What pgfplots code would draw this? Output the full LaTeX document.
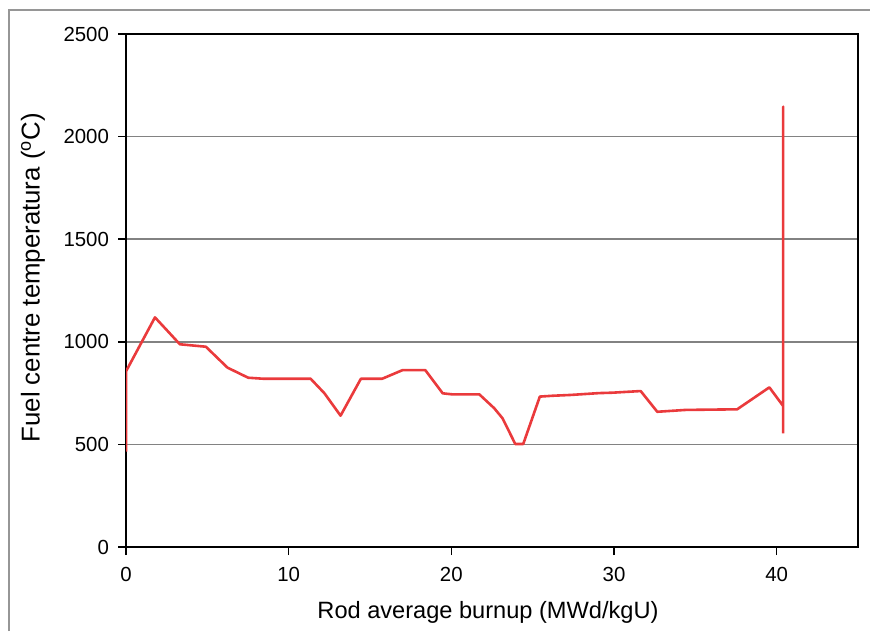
\documentclass[border=0pt]{standalone}
\usepackage{pgfplots}
\pgfplotsset{compat=1.18}
\usepackage{fontspec}
\setmainfont{Liberation Sans}

\definecolor{tempred}{RGB}{234,58,60}
\definecolor{gridgray}{RGB}{130,130,130}
\definecolor{framegray}{RGB}{150,150,150}

\begin{document}
\begin{tikzpicture}
\useasboundingbox (0,0) rectangle (435pt,315.5pt);
% thin frame around the figure
\draw[framegray, line width=0.8pt] (4.5pt,0pt) -- (4.5pt,310.5pt) -- (435pt,310.5pt);
\begin{axis}[
  at={(63pt,42pt)}, anchor=south west,
  scale only axis,
  width=366pt, height=256.5pt,
  xmin=0, xmax=45, ymin=0, ymax=2500,
  xtick={0,10,20,30,40},
  ytick={0,500,1000,1500,2000,2500},
  ymajorgrids,
  major grid style={gridgray, line width=0.75pt},
  axis line style={black, line width=0.85pt},
  tick style={black, line width=0.75pt},
  tick align=outside,
  major tick length=4pt,
  xtick pos=bottom, ytick pos=left,
  /pgf/number format/assume math mode=true,
  /pgf/number format/1000 sep={},
  tick label style={font=\fontsize{10.2}{12}\selectfont},
  xticklabel style={yshift=-2.5pt},
  yticklabel style={xshift=-1pt},
  xlabel={Rod average burnup (MWd/kgU)},
  ylabel={Fuel centre temperatura (\textsuperscript{o}C)},
  xlabel style={font=\fontsize{11.8}{14}\selectfont,
    at={(axis description cs:0.4945,-0.127)}, anchor=center},
  ylabel style={font=\fontsize{12.9}{15}\selectfont,
    at={(axis description cs:-0.127,0.525)}, anchor=center},
]
\addplot[tempred, line width=1.3pt, line join=round] coordinates {
  (0,465) (0,856) (1.78,1119) (2.6,1049) (3.31,988) (4.91,976)
  (6.24,874) (7.51,825) (8.43,820) (11.35,820) (12.2,749) (13.19,640)
  (14.44,820) (15.75,820) (17.0,862) (18.4,862) (19.47,749) (20.04,744)
  (21.72,744) (22.64,676) (23.15,627) (23.93,502) (24.42,502) (25.44,733)
  (26.21,737) (27.34,741) (29.08,750) (29.9,752) (31.64,760) (32.66,659)
  (34.4,668) (37.57,671) (39.55,778) (40.4,687) (40.4,2146) (40.4,554)
};
\end{axis}
\end{tikzpicture}
\end{document}
